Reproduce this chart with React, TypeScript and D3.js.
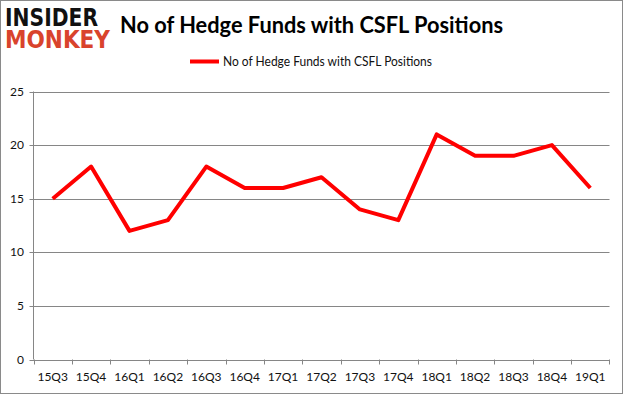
import React from "react";
import * as d3 from "d3";

const categories = ["15Q3","15Q4","16Q1","16Q2","16Q3","16Q4","17Q1","17Q2","17Q3","17Q4","18Q1","18Q2","18Q3","18Q4","19Q1"];
const values = [15, 18, 12, 13, 18, 16, 16, 17, 14, 13, 21, 19, 19, 20, 16];
const yTicks = [0, 5, 10, 15, 20, 25];
const seriesName = "No of Hedge Funds with CSFL Positions";
const title = "No of Hedge Funds with CSFL Positions";

const W = 625, H = 395;
const left = 33.5, right = 609.5, top = 91.5, bottom = 359.5;
const font = "Lato, 'Open Sans', sans-serif";

export default function App() {
  const x = d3.scaleBand<string>().domain(categories).range([left, right]);
  const y = d3.scaleLinear().domain([0, 25]).range([bottom, top]);
  const line = d3.line<number>()
    .x((_, i) => (x(categories[i]) as number) + x.bandwidth() / 2)
    .y((d) => y(d));
  const grid = "#868686";
  return (
    <svg width={W} height={H} style={{ position: "absolute", left: 0, top: 0, background: "#fff" }}>
      <rect x={0.5} y={0.5} width={622} height={393} fill="#fff" stroke="#8a8a8a" strokeWidth={1} />
      {/* logo */}
      <text fontFamily="'DejaVu Sans', sans-serif" fontWeight="bold" fontSize={24}>
        <tspan x={5} y={26} fill="#111" textLength={93} lengthAdjust="spacingAndGlyphs">INSIDER</tspan>
        <tspan x={5} y={48} fill="#d9432c" textLength={105} lengthAdjust="spacingAndGlyphs">MONKEY</tspan>
      </text>
      {/* title */}
      <text x={120} y={33} fontFamily={font} fontWeight="bold" fontSize={23} fill="#000" textLength={383} lengthAdjust="spacingAndGlyphs">{title}</text>
      {/* legend */}
      <line x1={190} x2={219} y1={61.5} y2={61.5} stroke="#ff0000" strokeWidth={4} />
      <text x={223} y={66} fontFamily={font} fontSize={12.5} fill="#111" textLength={209} lengthAdjust="spacingAndGlyphs">{seriesName}</text>
      {/* grid */}
      {yTicks.map((t) => (
        <g key={t}>
          <line x1={left - 4} x2={right} y1={Math.round(y(t)) + 0.5} y2={Math.round(y(t)) + 0.5} stroke={grid} strokeWidth={1} />
          <text x={24} y={y(t) + 4} textAnchor="end" fontFamily={font} fontSize={12} fill="#111">{t}</text>
        </g>
      ))}
      <line x1={left} x2={left} y1={top} y2={bottom} stroke={grid} />
      {categories.map((c) => (
        <line key={"t" + c} x1={Math.round(x(c) as number) + 0.5} x2={Math.round(x(c) as number) + 0.5} y1={bottom} y2={bottom + 5} stroke={grid} />
      ))}
      <line x1={right} x2={right} y1={bottom} y2={bottom + 5} stroke={grid} />
      {categories.map((c) => (
        <text key={c} x={(x(c) as number) + x.bandwidth() / 2} y={381} textAnchor="middle" fontFamily={font} fontSize={12} fill="#111">{c}</text>
      ))}
      <path d={line(values) || ""} fill="none" stroke="#ff0000" strokeWidth={4} strokeLinejoin="round" strokeLinecap="butt" />
    </svg>
  );
}
